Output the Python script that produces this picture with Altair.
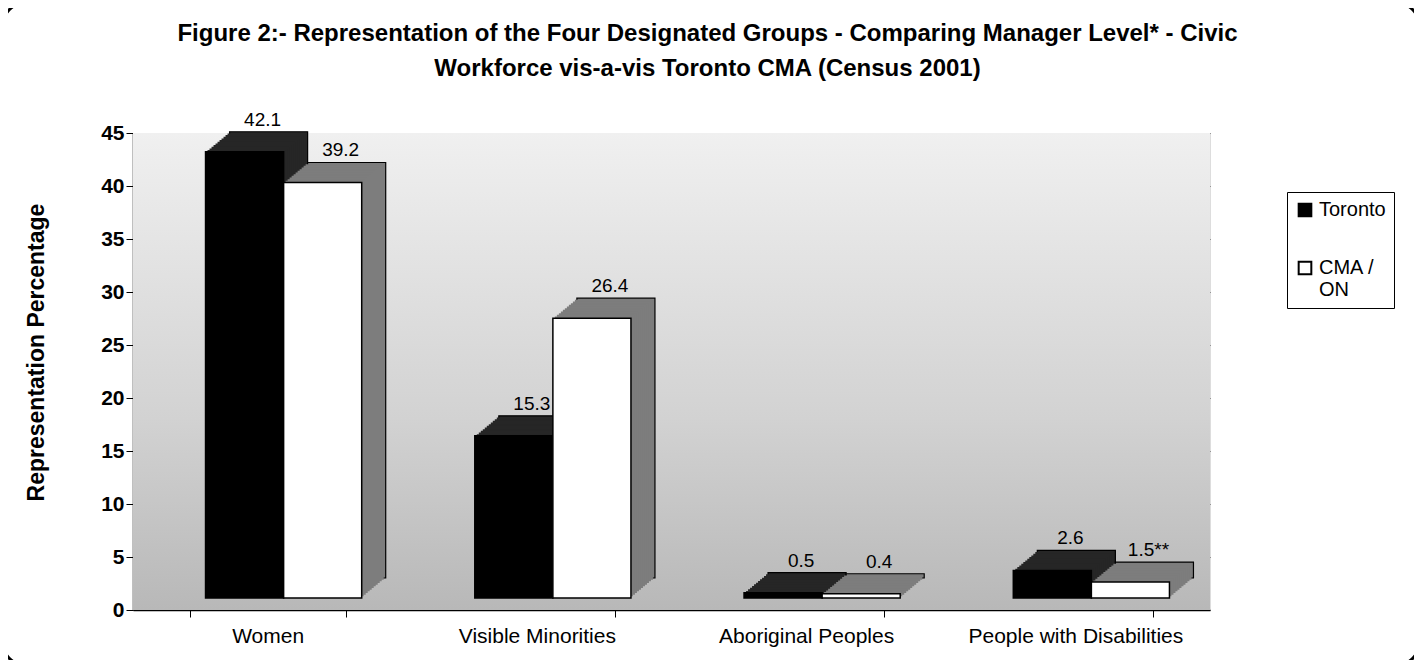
import altair as alt
import pandas as pd

categories = ["Women", "Visible Minorities", "Aboriginal Peoples", "People with Disabilities"]
series = ["Toronto", "CMA / ON"]
toronto = [42.1, 15.3, 0.5, 2.6]
cma = [39.2, 26.4, 0.4, 1.5]
toronto_labels = ["42.1", "15.3", "0.5", "2.6"]
cma_labels = ["39.2", "26.4", "0.4", "1.5**"]
y_ticks = [0, 5, 10, 15, 20, 25, 30, 35, 40, 45]

rows = []
for i, c in enumerate(categories):
    rows.append({"cat": c, "series": series[0], "value": toronto[i], "label": toronto_labels[i], "shade": "#262626"})
    rows.append({"cat": c, "series": series[1], "value": cma[i], "label": cma_labels[i], "shade": "#7d7d7d"})
df = pd.DataFrame(rows)

FONT = "Liberation Sans"
W, H = 1077, 477
PI, PO = 0.42, 0.21
BW = W / (len(categories) - PI + 2 * PO) * (1 - PI)
SHIFT = 16       # front faces sit slightly right of band start
DX, DY = 24, 20  # 3D depth of bars
LIFT = 12        # bars stand on the floor, a little above the axis line
STEPS = 12

x_enc = alt.X("cat:N", sort=categories, title=None,
              scale=alt.Scale(paddingInner=PI, paddingOuter=PO),
              axis=alt.Axis(labelFont=FONT, labelFontSize=21, labelColor="black", labelAngle=0,
                            labelPadding=8, tickBand="extent", tickColor="black", tickSize=7,
                            domainColor="black", domainWidth=1.5, labelLimit=400))
y_enc = alt.Y("value:Q", title="Representation Percentage",
              scale=alt.Scale(domain=[0, 45], nice=False),
              axis=alt.Axis(values=y_ticks, labelFont=FONT, labelFontSize=21, labelFontWeight="bold",
                            labelColor="black", tickColor="black", tickSize=7, domainColor="black",
                            domainWidth=1.5, titleFont=FONT, titleFontSize=23, titleFontWeight="bold",
                            titleColor="black", titlePadding=52, titleY=219, grid=True,
                            gridColor="#4a4a4a", gridWidth=1))


def xo_at(dx):
    return alt.XOffset("series:N", sort=series,
                       scale=alt.Scale(domain=series, range=[SHIFT + dx, BW + SHIFT + dx]))


base = alt.Chart(df)

wall = alt.Chart(pd.DataFrame({"a": [0]})).mark_rect(
    color=alt.Gradient(gradient="linear", x1=0, y1=0, x2=0, y2=1,
                       stops=[alt.GradientStop(offset=0, color="#f0f0f0"),
                              alt.GradientStop(offset=0.6, color="#d2d2d2"),
                              alt.GradientStop(offset=1, color="#b8b8b8")])
).encode(x=alt.value(0), x2=alt.value(W), y=alt.value(0), y2=alt.value(H))

frame = alt.Chart(pd.DataFrame({"a": [0]})).mark_rect(
    fill=None, stroke="black", strokeWidth=3, cornerRadius=22
).encode(x=alt.value(-130), x2=alt.value(1286), y=alt.value(-130), y2=alt.value(532))

# depth layers: back face (with outline) plus intermediate slices that fill the top and side faces
depth_layers = []
for k in range(STEPS, 0, -1):
    f = k / STEPS
    off = -(LIFT + DY * f)
    props = dict(yOffset=off, y2Offset=off)
    if k == STEPS:
        props.update(stroke="black", strokeWidth=1.2)
    depth_layers.append(
        base.mark_bar(**props).encode(
            x=x_enc, xOffset=xo_at(DX * f), y=y_enc, fill=alt.Fill("shade:N", scale=None)))

front = base.mark_bar(yOffset=-LIFT, y2Offset=-LIFT, stroke="black", strokeWidth=1.5).encode(
    x=x_enc, xOffset=xo_at(0), y=y_enc,
    fill=alt.Fill("series:N", sort=series,
                  scale=alt.Scale(domain=series, range=["black", "white"]),
                  legend=alt.Legend(title=None, orient="none", legendX=1154, legendY=59,
                                    labelFont=FONT, labelFontSize=20, labelColor="black",
                                    symbolType="square", symbolSize=160, symbolStrokeColor="black",
                                    symbolStrokeWidth=2, rowPadding=36, padding=8,
                                    strokeColor="black", labelLimit=90, labelOffset=4,
                                    labelExpr="datum.label == 'CMA / ON' ? ['CMA /', 'ON'] : datum.label")))

text = base.mark_text(font=FONT, fontSize=19, color="black", baseline="middle",
                      dx=DX / 2 + 6, dy=-44).encode(
    x=x_enc, xOffset=xo_at(0), y=y_enc, text="label:N")

chart = alt.layer(frame, wall, *depth_layers, front, text).resolve_scale(xOffset="independent").properties(
    width=W, height=H,
    autosize=alt.AutoSizeParams(type="none"),
    padding={"left": 125, "top": 125, "right": 204, "bottom": 50},
    title=alt.TitleParams(
        text=["Figure 2:- Representation of the Four Designated Groups - Comparing Manager Level* - Civic",
              "Workforce vis-a-vis Toronto CMA (Census 2001)"],
        font=FONT, fontSize=24, fontWeight="bold", color="black", anchor="middle",
        offset=-79, dx=36, lineHeight=35),
).configure_view(stroke="#333333", strokeWidth=1).configure(background="white")

chart.save("out.html", embed_options={"renderer": "svg", "actions": False})
